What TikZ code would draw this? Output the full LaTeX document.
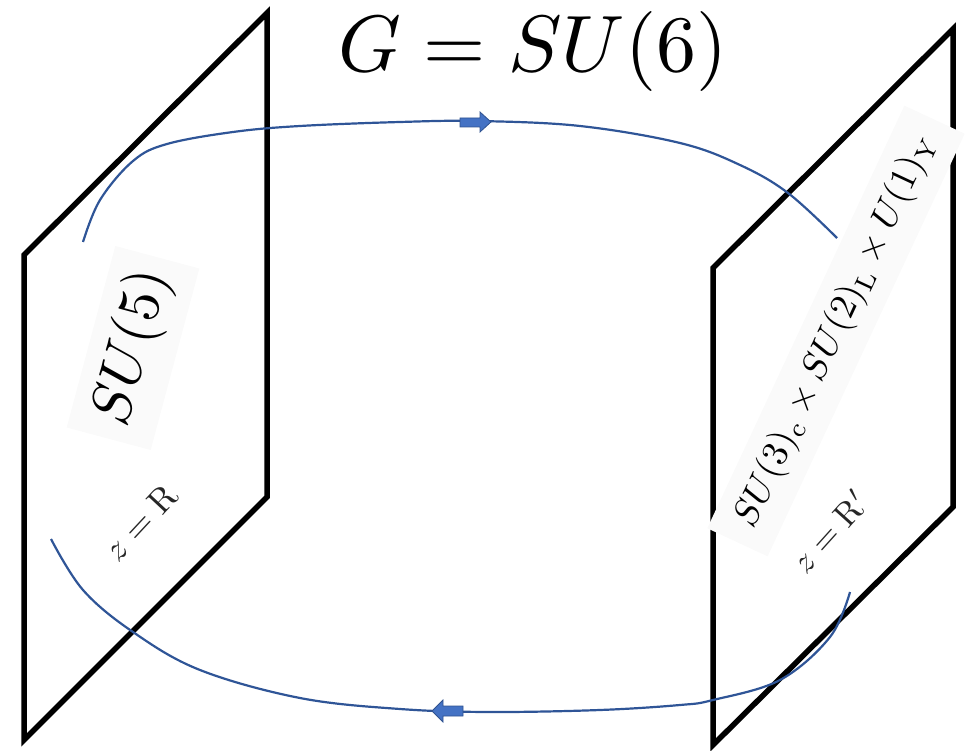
\documentclass[tikz,border=0pt]{standalone}
\usepackage{amsmath}
\definecolor{curveblue}{HTML}{2F5597}
\definecolor{arrowfill}{HTML}{4472C4}
\definecolor{arrowline}{HTML}{2F528F}
\definecolor{labelbg}{HTML}{FAFAFA}
\begin{document}
\begin{tikzpicture}[x=1pt,y=-1pt,
  panel/.style={draw=black,line width=5.5pt,line join=miter},
  loop/.style={draw=curveblue,line width=2.2pt},
  blockarrow/.style={fill=arrowfill,draw=arrowline,line width=0.8pt,line join=miter},
  grouplabel/.style={fill=labelbg,text=black},
  zlabel/.style={inner sep=0pt,text=black!85}]
\useasboundingbox (0,0) rectangle (966,751);
% panels
\draw[panel] (24,255) -- (267,13) -- (267,497) -- (24,740) -- cycle;
\draw[panel] (713,268) -- (953,29) -- (953,507) -- (713,745) -- cycle;
% title
\node[anchor=base,inner sep=0pt,scale=8.0] (title) at (533,72) {$G=SU(6)$};
% labels
\node[grouplabel,rotate=75,scale=5.8,inner sep=2.5pt] (su5) at (133,348) {$SU(5)$};
\node[grouplabel,rotate=65,scale=3.7,inner ysep=4pt,inner xsep=5pt] (smg) at (836,331) {$SU(3)_{\mathrm{c}}\times SU(2)_{\mathrm{L}}\times U(1)_{\mathrm{Y}}$};
\node[zlabel,rotate=47,scale=3.5] (zR) at (141,522) {$z=\mathrm{R}$};
\node[zlabel,rotate=48,scale=3.4] (zRp) at (830,531) {$z=\mathrm{R}'$};
% loop curves
\draw[loop] plot[smooth,tension=0.6] coordinates {(83,242) (100,200) (133,161) (167,144) (233,132) (300,126) (400,122) (478,121) (580,126) (680,143) (740,165) (788,193) (837,238)};
\draw[loop] plot[smooth,tension=0.6] coordinates {(51,539) (83,590) (133,632) (200,670) (300,698) (400,709) (490,712) (600,710) (680,705) (713,700) (780,680) (830,637) (850,592)};
% block arrows
\filldraw[blockarrow] (460,118) -- (480,118) -- (480,112) -- (491,122) -- (480,132) -- (480,127) -- (460,127) -- cycle;
\filldraw[blockarrow] (432,711) -- (443,700) -- (443,706) -- (463,706) -- (463,716) -- (443,716) -- (443,722) -- cycle;
\end{tikzpicture}
\end{document}
